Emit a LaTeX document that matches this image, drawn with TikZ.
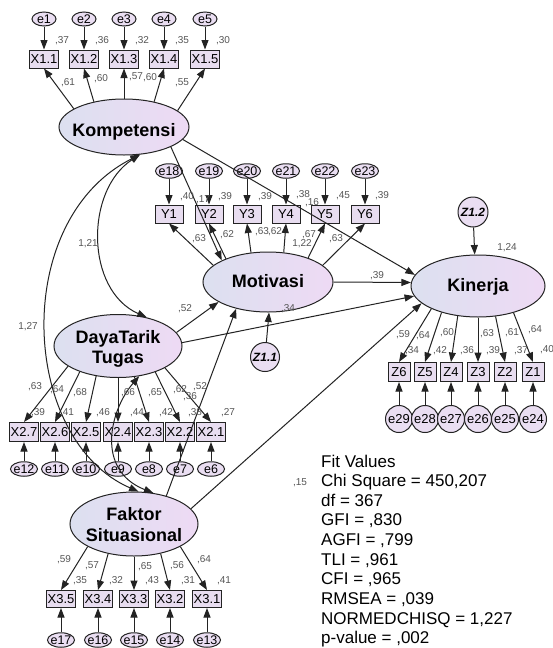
\documentclass[tikz,border=0pt]{standalone}
\usepackage{fontspec}
\setmainfont{Liberation Sans}
\usetikzlibrary{arrows.meta,shapes.geometric}
\definecolor{latL}{RGB}{220,224,240}
\definecolor{latR}{RGB}{238,218,244}
\definecolor{boxF}{RGB}{232,221,240}
\definecolor{errF}{RGB}{234,222,242}
\definecolor{lineC}{RGB}{35,35,35}
\definecolor{lblC}{RGB}{85,85,85}
\begin{document}
\begin{tikzpicture}[x=1pt,y=-1pt,
  lat/.style={ellipse,draw=lineC,line width=1pt,left color=latL,right color=latR,inner sep=0pt},
  lattxt/.style={inner sep=0pt,align=center,font=\fontsize{18}{20}\selectfont\bfseries},
  obs/.style={rectangle,draw=lineC,line width=1pt,fill=boxF,inner xsep=1.6pt,inner ysep=0pt,minimum height=18pt,font=\fontsize{13}{15}\selectfont},
  err/.style={ellipse,draw=lineC,line width=1pt,fill=errF,inner sep=0pt,minimum width=27pt,minimum height=14.5pt,font=\fontsize{12.5}{14}\selectfont},
  errc/.style={circle,draw=lineC,line width=1pt,fill=errF,inner sep=0pt,minimum size=27pt,font=\fontsize{13}{15}\selectfont},
  dist/.style={circle,draw=lineC,line width=1pt,fill=errF,inner sep=0pt,minimum size=29pt,font=\fontsize{12}{14}\selectfont\bfseries\itshape},
  lbl/.style={inner sep=0pt,text=lblC,font=\fontsize{10}{12}\selectfont},
  pth/.style={draw=lineC,line width=1pt,-{Triangle[length=9.5pt,width=7pt]}},
  cov/.style={draw=lineC,line width=1pt,{Triangle[length=9.5pt,width=7pt]}-{Triangle[length=9.5pt,width=7pt]}},
  fittxt/.style={anchor=base west,inner sep=0pt,font=\fontsize{17}{20}\selectfont}
]
\fill[white] (0,0) rectangle (553,648);
\useasboundingbox (0,0) rectangle (553,648);

% latent variables
\node[lat,minimum width=130pt,minimum height=56pt] (kom) at (124,127) {};
\node[lat,minimum width=130pt,minimum height=60pt] (mot) at (268,282) {};
\node[lat,minimum width=134pt,minimum height=62pt] (kin) at (478,286) {};
\node[lat,minimum width=128pt,minimum height=63pt] (dtt) at (118,346) {};
\node[lat,minimum width=128pt,minimum height=64pt] (fak) at (134,524) {};
\node[lattxt] (komt) at (124,132) {Kompetensi};
\node[lattxt] (mott) at (268,281.5) {Motivasi};
\node[lattxt] (kint) at (478,287) {Kinerja};
\node[lattxt] (dttt) at (118,349) {DayaTarik\\Tugas};
\node[lattxt,font=\fontsize{18}{21}\selectfont\bfseries] (fakt) at (134,524.5) {Faktor\\Situasional};

% disturbances
\node[dist] (d1) at (265,357) {Z1.1};
\node[dist,minimum size=30pt] (d2) at (473,212) {Z1.2};

% indicators and errors
\foreach \n/\x in {1/44,2/84,3/124,4/164,5/205}{
  \node[obs] (x1\n) at (\x,59) {X1.\n};
  \node[err,minimum width=24pt,minimum height=14pt] (e\n) at (\x,19) {\makebox[0pt]{e\n}};
}
\foreach \n/\x in {1/169,2/209,3/247,4/286,5/325,6/365}{
  \pgfmathtruncatemacro{\m}{17+\n}
  \node[obs,minimum width=28pt] (y\n) at (\x,214) {Y\n};
  \node[err] (e\m) at (\x,171) {\makebox[0pt]{e\m}};
}
\foreach \n/\x in {7/24,6/55,5/86,4/118,3/149,2/180,1/211}{
  \pgfmathtruncatemacro{\m}{5+\n}
  \node[obs,minimum height=19pt] (x2\n) at (\x,432) {X2.\n};
  \node[err] (e\m) at (\x,469) {\makebox[0pt]{e\m}};
}
\foreach \n/\x in {5/61,4/98,3/134,2/170,1/207}{
  \pgfmathtruncatemacro{\m}{12+\n}
  \node[obs,minimum height=17pt] (x3\n) at (\x,599) {X3.\n};
  \node[err] (e\m) at (\x,640) {\makebox[0pt]{e\m}};
}
\foreach \n/\x in {6/399,5/425,4/451,3/478,2/505,1/533}{
  \pgfmathtruncatemacro{\m}{23+\n}
  \node[obs,minimum width=22pt,minimum height=19pt,inner xsep=0pt] (z\n) at (\x,372) {Z\n};
  \node[errc] (e\m) at (\x,419) {e\m};
}

% error arrows
\foreach \n in {1,...,5} \draw[pth] (e\n) -- (x1\n);
\foreach \n in {1,...,6}{\pgfmathtruncatemacro{\m}{17+\n}\draw[pth] (e\m) -- (y\n);}
\foreach \n in {1,...,7}{\pgfmathtruncatemacro{\m}{5+\n}\draw[pth] (e\m) -- (x2\n);}
\foreach \n in {1,...,5}{\pgfmathtruncatemacro{\m}{12+\n}\draw[pth] (e\m) -- (x3\n);}
\foreach \n in {1,...,6}{\pgfmathtruncatemacro{\m}{23+\n}\draw[pth] (e\m) -- (z\n);}

% loadings
\foreach \n/\a in {1/160,2/140,3/90,4/40,5/17} \draw[pth] (kom.\a) -- (x1\n.south);
\foreach \n/\a in {1/163,2/151,3/120,4/62,5/31,6/17} \draw[pth] (mot.\a) -- (y\n.south);
\foreach \n/\a in {7/202,6/214,5/234,4/270,3/298,2/325,1/335} \draw[pth] (dtt.\a) -- (x2\n.north);
\foreach \n/\a in {5/206,4/229,3/270,2/312,1/334} \draw[pth] (fak.\a) -- (x3\n.north);
\foreach \n/\a in {6/206,5/216,4/236,3/270,2/300,1/323} \draw[pth] (kin.\a) -- (z\n.north);

% structural paths
\draw[pth] (kom.337) -- (mot.155);
\draw[pth] (kom.348) -- (kin.170);
\draw[pth] (mot.0) -- (kin.177);
\draw[pth] (dtt.13) -- (mot.202);
\draw[pth] (dtt.3) -- (kin.189);
\draw[pth] (fak.41) -- (mot.220);
\draw[pth] (fak.15) -- (kin.197);
\draw[pth] (d1) -- (mot.272);
\draw[pth] (d2) -- (kin.96);

% covariances
\draw[cov] (kom.300) .. controls (85,190) and (85,290) .. (dtt.45);
\draw[cov] (kom.300) .. controls (10,220) and (20,440) .. (fak.82);
\draw[cov] (dtt.305) .. controls (110,410) and (95,470) .. (fak.58);

% labels
\foreach \x/\y/\t [count=\i] in {
  62/41/37,102/41/36,142/41/32,182/41/35,223/41/30,
  68/83/61,101/79/60,136/77/57,150/78/60,182/83/55,
  187/197/40,225/197/39,265/197/39,303/195/38,343/196/45,382/196/39,
  203/200/17,312/203/16,
  199/239/63,227/235/62,262/232/63,275/232/62,309/235/67,336/239/63,
  377/276/39,185/309/52,288/309/34,300/483/15,
  403/335/59,423/336/64,447/333/60,487/334/63,512/333/61,535/330/64,
  412/351/34,440/351/42,467/351/36,493/351/39,521/351/37,547/350/40,
  35/387/63,57/390/64,80/393/68,128/393/66,155/393/65,180/390/62,200/387/52,190/397/36,
  38/413/39,67/413/41,103/413/46,137/413/44,166/413/42,195/413/38,228/413/27,
  64/560/59,92/566/57,145/567/65,177/566/56,204/560/64,
  80/581/35,116/581/32,152/581/43,188/581/31,224/581/41}
  \node[lbl] (lb\i) at (\x,\y) {,\t};
\node[lbl] (c1) at (88,244) {1,21};
\node[lbl] (c2) at (28,327) {1,27};
\node[lbl] (r1) at (302,244) {1,22};
\node[lbl] (r2) at (507,248) {1,24};

% fit values
\foreach \t [count=\i from 0] in {Fit Values,{Chi Square = 450,207},df = 367,{GFI = ,830},{AGFI = ,799},{TLI = ,961},{CFI = ,965},{RMSEA = ,039},{NORMEDCHISQ = 1,227},{p-value = ,002}}
  \node[fittxt] (fit\i) at (321,{467+19.63*\i}) {\t};
\end{tikzpicture}
\end{document}
